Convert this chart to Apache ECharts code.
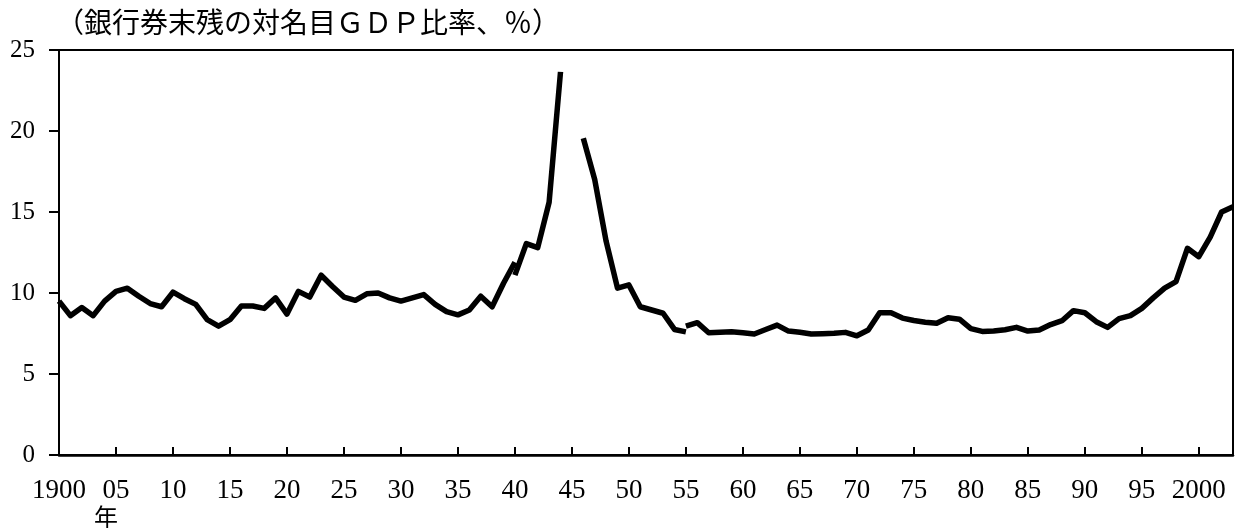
<!DOCTYPE html>
<html>
<head>
<meta charset="utf-8">
<script src="https://cdn.jsdelivr.net/npm/echarts@6/dist/echarts.min.js"></script>
<style>
  html, body { margin: 0; padding: 0; background: #fff; }
  #chart { width: 1238px; height: 528px; }
</style>
</head>
<body>
<div id="chart"></div>
<script>
// Banknotes in circulation (year-end) as a share of nominal GDP, %
// Pre-war series, 1900-1940
const yearsPrewar = [1900,1901,1902,1903,1904,1905,1906,1907,1908,1909,
  1910,1911,1912,1913,1914,1915,1916,1917,1918,1919,
  1920,1921,1922,1923,1924,1925,1926,1927,1928,1929,
  1930,1931,1932,1933,1934,1935,1936,1937,1938,1939,1940];
const ratioPrewar = [9.5,8.6,9.1,8.6,9.5,10.1,10.3,9.8,9.35,9.15,
  10.05,9.65,9.3,8.35,7.95,8.35,9.2,9.2,9.05,9.7,
  8.7,10.1,9.75,11.1,10.4,9.75,9.55,9.95,10.0,9.7,
  9.5,9.7,9.9,9.3,8.85,8.65,8.95,9.8,9.15,10.6,11.9];

// Wartime / post-war series, 1940-1955 (1945 not available)
const yearsWar = [1940,1941,1942,1943,1944,1945,1946,1947,1948,1949,
  1950,1951,1952,1953,1954,1955];
const ratioWar = [11.1,13.05,12.8,15.6,23.65,null,19.55,17.0,13.2,10.3,
  10.5,9.15,8.95,8.75,7.75,7.6];

// SNA-based series, 1955-2003
const yearsSna = [1955,1956,1957,1958,1959,1960,1961,1962,1963,1964,
  1965,1966,1967,1968,1969,1970,1971,1972,1973,1974,
  1975,1976,1977,1978,1979,1980,1981,1982,1983,1984,
  1985,1986,1987,1988,1989,1990,1991,1992,1993,1994,
  1995,1996,1997,1998,1999,2000,2001,2002,2003];
const ratioSna = [7.95,8.17,7.55,7.58,7.61,7.54,7.47,7.75,8.02,7.65,
  7.58,7.47,7.49,7.51,7.57,7.36,7.72,8.78,8.78,8.45,
  8.3,8.2,8.13,8.47,8.38,7.8,7.63,7.66,7.73,7.88,
  7.65,7.72,8.05,8.29,8.91,8.78,8.23,7.88,8.42,8.6,
  9.05,9.7,10.3,10.7,12.76,12.24,13.45,15.0,15.33];

// Axis tick labels
const xTickYears = [1900,1905,1910,1915,1920,1925,1930,1935,1940,1945,1950,
  1955,1960,1965,1970,1975,1980,1985,1990,1995,2000];
const xTickLabels = ['1900','05','10','15','20','25','30','35','40','45','50',
  '55','60','65','70','75','80','85','90','95','2000'];
const yTicks = [0,5,10,15,20,25];

const titleText = '（銀行券末残の対名目ＧＤＰ比率、％）';
const yearUnit = '年';

function pairs(xs, ys) {
  return xs.map((x, i) => [x, ys[i]]);
}

const lineStyle = { color: '#000', width: 5.5, join: 'round', cap: 'butt' };
function lineSeries(data) {
  return {
    type: 'line',
    data: data,
    showSymbol: false,
    symbol: 'none',
    connectNulls: false,
    lineStyle: lineStyle,
    silent: true,
    animation: false
  };
}

const numFont = '"Liberation Serif", "DejaVu Serif", serif';
const cjkFont = '"Noto Sans CJK JP", sans-serif';

const chart = echarts.init(document.getElementById('chart'), null, { renderer: 'canvas' });
chart.setOption({
  backgroundColor: '#fff',
  animation: false,
  title: {
    text: titleText,
    left: 56,
    top: 8,
    padding: 0,
    textStyle: { fontFamily: cjkFont, fontSize: 28, fontWeight: 'normal', color: '#000' }
  },
  grid: {
    left: 59, right: 5, top: 50, bottom: 73,
    show: true, borderColor: '#000', borderWidth: 2, backgroundColor: 'transparent'
  },
  xAxis: {
    type: 'value',
    min: 1900,
    max: 2003,
    interval: 5,
    axisLine: { show: true, lineStyle: { color: '#000', width: 2.5 } },
    axisTick: { show: true, inside: true, length: 8, lineStyle: { color: '#000', width: 2 } },
    splitLine: { show: false },
    axisLabel: {
      margin: 22,
      fontFamily: numFont,
      fontSize: 27,
      color: '#000',
      showMaxLabel: false,
      formatter: function (v) {
        const i = xTickYears.indexOf(v);
        return i >= 0 ? xTickLabels[i] : '';
      }
    }
  },
  yAxis: {
    type: 'value',
    min: yTicks[0],
    max: yTicks[yTicks.length - 1],
    interval: 5,
    axisLine: { show: true, lineStyle: { color: '#000', width: 2 } },
    axisTick: { show: true, inside: false, length: 10, lineStyle: { color: '#000', width: 2 } },
    splitLine: { show: false },
    axisLabel: {
      margin: 24,
      fontFamily: numFont,
      fontSize: 25,
      color: '#000'
    }
  },
  graphic: [{
    type: 'text',
    left: 94,
    top: 505,
    style: { text: yearUnit, font: '24px ' + cjkFont, fill: '#000' }
  }],
  series: [
    lineSeries(pairs(yearsPrewar, ratioPrewar)),
    lineSeries(pairs(yearsWar, ratioWar)),
    lineSeries(pairs(yearsSna, ratioSna))
  ]
});
</script>
</body>
</html>
